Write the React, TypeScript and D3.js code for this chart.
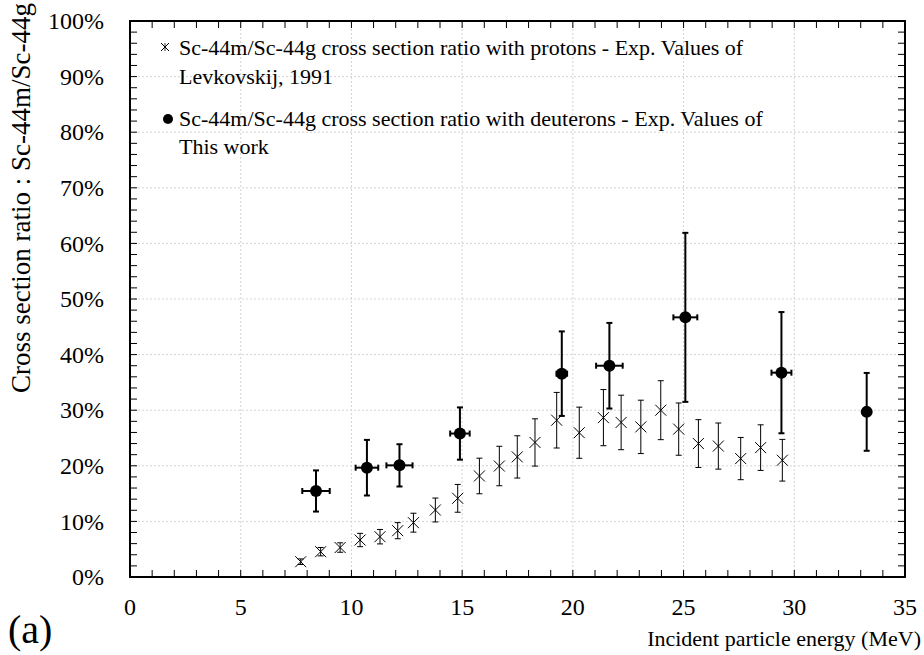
import React from 'react';
import * as d3 from 'd3';

const protonEnergy = [7.71, 8.61, 9.49, 10.39, 11.29, 12.09, 12.8, 13.79, 14.8, 15.78, 16.68, 17.49, 18.29, 19.27, 20.29, 21.38, 22.18, 23.07, 23.97, 24.78, 25.67, 26.57, 27.58, 28.48, 29.46];
const protonRatio = [2.75, 4.55, 5.3, 6.65, 7.25, 8.33, 9.77, 12.05, 14.15, 18.17, 19.96, 21.6, 24.2, 28.2, 25.95, 28.66, 27.8, 27.0, 30.0, 26.6, 24.0, 23.55, 21.3, 23.27, 21.0];
const protonErr = [0.5, 0.75, 0.85, 1.2, 1.3, 1.45, 1.7, 2.15, 2.5, 3.2, 3.55, 3.8, 4.25, 5.0, 4.6, 5.05, 4.9, 4.8, 5.3, 4.7, 4.3, 4.15, 3.8, 4.1, 3.75];

const deuteronEnergy = [8.4, 10.7, 12.17, 14.9, 19.5, 21.65, 25.08, 29.42, 33.27];
const deuteronRatio = [15.47, 19.66, 20.08, 25.8, 36.57, 38.0, 46.7, 36.75, 29.7];
const deuteronErr = [3.7, 5.0, 3.8, 4.7, 7.6, 7.7, 15.2, 10.9, 7.0];
const deuteronEnergyErr = [0.62, 0.51, 0.59, 0.44, 0.24, 0.6, 0.54, 0.45, 0.15];

const xMajorTicks = [0, 5, 10, 15, 20, 25, 30, 35];
const yMajorTicks = [0, 10, 20, 30, 40, 50, 60, 70, 80, 90, 100];

const legendProton = ['Sc-44m/Sc-44g cross section ratio with protons - Exp. Values of', 'Levkovskij, 1991'];
const legendDeuteron = ['Sc-44m/Sc-44g cross section ratio with deuterons - Exp. Values of', 'This work'];

const xTitle = 'Incident particle energy (MeV)';
const yTitle = 'Cross section ratio : Sc-44m/Sc-44g';
const panelLabel = '(a)';

export default function App() {
  const W = 924, H = 655;
  const left = 130, right = 905, top = 21, bottom = 577;
  const x = d3.scaleLinear().domain([0, 35]).range([left, right]);
  const y = d3.scaleLinear().domain([0, 100]).range([bottom, top]);
  const font = "'Liberation Serif', 'Times New Roman', serif";
  const ts = (size: number) => ({ fontFamily: font, fontSize: size + 'px' });

  const xMinor = d3.range(0, 36, 1);
  const yMinor = d3.range(0, 101, 2);
  const tk = 7;

  const protons = protonEnergy.map((e, i) => ({ e, r: protonRatio[i], err: protonErr[i] }));
  const deuterons = deuteronEnergy.map((e, i) => ({ e, r: deuteronRatio[i], err: deuteronErr[i], eerr: deuteronEnergyErr[i] }));

  const cross = (cx: number, cy: number, s: number) =>
    `M${cx - s},${cy - s}L${cx + s},${cy + s}M${cx - s},${cy + s}L${cx + s},${cy - s}`;

  return (
    <svg width={W} height={H} style={{ position: 'absolute', left: 0, top: 0, background: '#fff', fontFamily: font }}>
      <rect x={0} y={0} width={W} height={H} fill="#fff" />
      {/* grid */}
      <g stroke="#d4d4d4" strokeWidth={1} strokeDasharray="2,2">
        {xMajorTicks.slice(1, -1).map(v => (
          <line key={'gx' + v} x1={x(v)} x2={x(v)} y1={top} y2={bottom} />
        ))}
        {yMajorTicks.slice(1, -1).map(v => (
          <line key={'gy' + v} x1={left} x2={right} y1={y(v)} y2={y(v)} />
        ))}
      </g>
      {/* ticks */}
      <g stroke="#000" strokeWidth={1}>
        {xMinor.map(v => (
          <g key={'tx' + v}>
            <line x1={x(v)} x2={x(v)} y1={bottom} y2={bottom - tk} />
            <line x1={x(v)} x2={x(v)} y1={top} y2={top + tk} />
          </g>
        ))}
        {yMinor.map(v => (
          <g key={'ty' + v}>
            <line x1={left} x2={left + tk} y1={y(v)} y2={y(v)} />
            <line x1={right} x2={right - tk} y1={y(v)} y2={y(v)} />
          </g>
        ))}
      </g>
      <rect x={left} y={top} width={right - left} height={bottom - top} fill="none" stroke="#000" strokeWidth={2} />
      {/* tick labels */}
      <g fill="#000">
        {xMajorTicks.map(v => (
          <text key={'lx' + v} x={x(v)} y={615} textAnchor="middle" style={ts(24)}>{v}</text>
        ))}
        {yMajorTicks.map(v => (
          <text key={'ly' + v} x={104} y={y(v)} dy="0.34em" textAnchor="end" style={ts(24)}>{v + '%'}</text>
        ))}
      </g>
      <text x={921} y={646} textAnchor="end" style={ts(22)}>{xTitle}</text>
      <text transform={`translate(30,198) rotate(-90)`} textAnchor="middle" style={ts(27)}>{yTitle}</text>
      <text x={8} y={643} style={ts(40)}>{panelLabel}</text>

      {/* proton data */}
      <g stroke="#000" fill="none">
        {protons.map((d, i) => (
          <g key={'p' + i}>
            <line x1={x(d.e)} x2={x(d.e)} y1={y(d.r - d.err)} y2={y(d.r + d.err)} strokeWidth={1} />
            <line x1={x(d.e) - 3} x2={x(d.e) + 3} y1={y(d.r - d.err)} y2={y(d.r - d.err)} strokeWidth={1} />
            <line x1={x(d.e) - 3} x2={x(d.e) + 3} y1={y(d.r + d.err)} y2={y(d.r + d.err)} strokeWidth={1} />
            <path d={cross(x(d.e), y(d.r), 5.5)} strokeWidth={1} />
          </g>
        ))}
      </g>
      {/* deuteron data */}
      <g stroke="#000" fill="#000">
        {deuterons.map((d, i) => (
          <g key={'d' + i}>
            <line x1={x(d.e)} x2={x(d.e)} y1={y(d.r - d.err)} y2={y(d.r + d.err)} strokeWidth={2} />
            <line x1={x(d.e) - 3} x2={x(d.e) + 3} y1={y(d.r - d.err)} y2={y(d.r - d.err)} strokeWidth={2} />
            <line x1={x(d.e) - 3} x2={x(d.e) + 3} y1={y(d.r + d.err)} y2={y(d.r + d.err)} strokeWidth={2} />
            <line x1={x(d.e - d.eerr)} x2={x(d.e + d.eerr)} y1={y(d.r)} y2={y(d.r)} strokeWidth={2} />
            <line x1={x(d.e - d.eerr)} x2={x(d.e - d.eerr)} y1={y(d.r) - 3} y2={y(d.r) + 3} strokeWidth={2} />
            <line x1={x(d.e + d.eerr)} x2={x(d.e + d.eerr)} y1={y(d.r) - 3} y2={y(d.r) + 3} strokeWidth={2} />
            <circle cx={x(d.e)} cy={y(d.r)} r={6} stroke="none" />
          </g>
        ))}
      </g>

      {/* legend */}
      <g fill="#000">
        <path d={cross(165, 47, 4)} stroke="#000" strokeWidth={1} fill="none" />
        <line x1={165} x2={165} y1={43} y2={51} stroke="#000" strokeWidth={0.8} />
        <text x={179} y={55} style={ts(22)}>{legendProton[0]}</text>
        <text x={179} y={84} style={ts(22)}>{legendProton[1]}</text>
        <circle cx={168} cy={119} r={5} fill="#000" />
        <text x={179} y={126} style={ts(22)}>{legendDeuteron[0]}</text>
        <text x={179} y={154} style={ts(22)}>{legendDeuteron[1]}</text>
      </g>
    </svg>
  );
}
